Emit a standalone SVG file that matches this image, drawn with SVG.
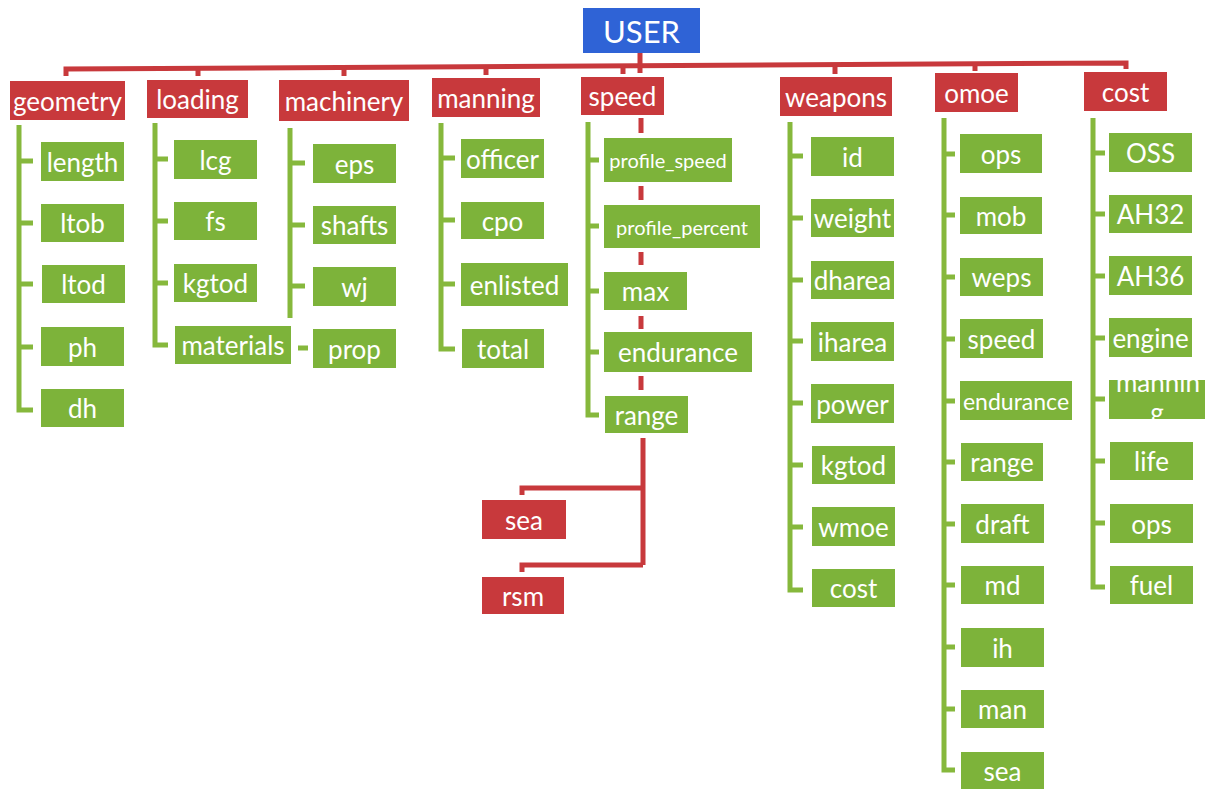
<svg xmlns="http://www.w3.org/2000/svg" width="1205" height="789" viewBox="0 0 1205 789">
<style>
.bg{fill:#ffffff}
.r{fill:#c8393c}
.g{fill:#7db33a}
.b{fill:#2f63d6}
.t{font-family:Lato,"Open Sans",sans-serif;font-size:26px;fill:#ffffff;text-anchor:middle;dominant-baseline:central}
.s{font-size:20px}
.gl{stroke:#86b83c;stroke-width:5;fill:none}
.rl{stroke:#c8393c;stroke-width:5;fill:none}
</style>
<defs>
<clipPath id="cm"><rect x="1109" y="380" width="96" height="39"/></clipPath>
</defs>
<rect class="bg" x="0" y="0" width="1205" height="789"/>
<g id="connectors">
<path class="rl" d="M66,76 V69 L1126,63 V69"/>
<path class="rl" d="M198,68 V76 M344,67 V76 M486,66 V75 M623,65 V74 M640,53 V73 M835,64 V74 M975,64 V71"/>
<path class="rl" d="M641,118 V133 M641,186 V200 M641,252 V265 M641,316 V329 M641,376 V390"/>
<path class="rl" d="M643,438 V565 M643,488 H522 V495 M643,565 H522 V572"/>
<path class="gl" d="M19,125 V410 H33 M19,161 H33 M19,223 H33 M19,284 H33 M19,347 H33"/>
<path class="gl" d="M155,123 V345 H168 M155,159 H168 M155,221 H168 M155,283 H168"/>
<path class="gl" d="M290,128 V318 M290,163 H305 M290,225 H305 M290,286 H305 M298,348 H308"/>
<path class="gl" d="M441,123 V349 H455 M441,158 H455 M441,220 H455 M441,284 H455"/>
<path class="gl" d="M588,122 V415 H599 M588,160 H599 M588,226 H599 M588,291 H599 M588,352 H599"/>
<path class="gl" d="M790,122 V590 H803 M790,156 H803 M790,218 H803 M790,280 H803 M790,341 H803 M790,403 H803 M790,465 H803 M790,527 H803"/>
<path class="gl" d="M944,118 V770 H955 M944,154 H955 M944,215 H955 M944,277 H955 M944,339 H955 M944,401 H955 M944,462 H955 M944,524 H955 M944,585 H955 M944,647 H955 M944,709 H955"/>
<path class="gl" d="M1093,118 V587 H1105 M1093,153 H1105 M1093,214 H1105 M1093,276 H1105 M1093,338 H1105 M1093,399 H1105 M1093,461 H1105 M1093,523 H1105"/>
</g>
<g id="user"><rect class="b" x="583" y="8" width="117" height="45"/><text class="t" x="641.5" y="30.5" style="font-size:31px">USER</text></g>
<g id="geometry"><rect class="r" x="10" y="81" width="115" height="39"/><text class="t" x="67.5" y="100.5">geometry</text></g>
<g id="loading"><rect class="r" x="147" y="80" width="101" height="38"/><text class="t" x="197.5" y="99">loading</text></g>
<g id="machinery"><rect class="r" x="279" y="80" width="130" height="41"/><text class="t" x="344" y="100.5">machinery</text></g>
<g id="manning"><rect class="r" x="432" y="78" width="108" height="39"/><text class="t" x="486" y="97.5">manning</text></g>
<g id="speed"><rect class="r" x="581" y="77" width="83" height="38"/><text class="t" x="622.5" y="96">speed</text></g>
<g id="weapons"><rect class="r" x="780" y="77" width="112" height="39"/><text class="t" x="836" y="96.5">weapons</text></g>
<g id="omoe"><rect class="r" x="935" y="73" width="83" height="39"/><text class="t" x="976.5" y="92.5">omoe</text></g>
<g id="cost"><rect class="r" x="1084" y="72" width="83" height="39"/><text class="t" x="1125.5" y="91.5">cost</text></g>

<g id="geo-length"><rect class="g" x="41" y="142" width="83" height="39"/><text class="t" x="82.5" y="161.5">length</text></g>
<g id="geo-ltob"><rect class="g" x="41" y="204" width="83" height="38"/><text class="t" x="82.5" y="223">ltob</text></g>
<g id="geo-ltod"><rect class="g" x="42" y="265" width="83" height="38"/><text class="t" x="83.5" y="284">ltod</text></g>
<g id="geo-ph"><rect class="g" x="41" y="327" width="83" height="39"/><text class="t" x="82.5" y="346.5">ph</text></g>
<g id="geo-dh"><rect class="g" x="41" y="389" width="83" height="38"/><text class="t" x="82.5" y="408">dh</text></g>

<g id="load-lcg"><rect class="g" x="174" y="140" width="83" height="39"/><text class="t" x="215.5" y="159.5">lcg</text></g>
<g id="load-fs"><rect class="g" x="174" y="202" width="83" height="38"/><text class="t" x="215.5" y="221">fs</text></g>
<g id="load-kgtod"><rect class="g" x="174" y="264" width="83" height="38"/><text class="t" x="215.5" y="283">kgtod</text></g>
<g id="load-materials"><rect class="g" x="175" y="326" width="116" height="38"/><text class="t" x="233" y="345">materials</text></g>

<g id="mach-eps"><rect class="g" x="313" y="144" width="83" height="39"/><text class="t" x="354.5" y="163.5">eps</text></g>
<g id="mach-shafts"><rect class="g" x="313" y="206" width="83" height="38"/><text class="t" x="354.5" y="225">shafts</text></g>
<g id="mach-wj"><rect class="g" x="313" y="267" width="83" height="39"/><text class="t" x="354.5" y="286.5">wj</text></g>
<g id="mach-prop"><rect class="g" x="313" y="329" width="83" height="39"/><text class="t" x="354.5" y="348.5">prop</text></g>

<g id="man-officer"><rect class="g" x="461" y="139" width="83" height="39"/><text class="t" x="502.5" y="158.5">officer</text></g>
<g id="man-cpo"><rect class="g" x="461" y="202" width="83" height="37"/><text class="t" x="502.5" y="220.5">cpo</text></g>
<g id="man-enlisted"><rect class="g" x="461" y="263" width="107" height="43"/><text class="t" x="514.5" y="284.5">enlisted</text></g>
<g id="man-total"><rect class="g" x="462" y="329" width="82" height="39"/><text class="t" x="503" y="348.5">total</text></g>

<g id="sp-profile_speed"><rect class="g" x="604" y="138" width="128" height="44"/><text class="t s" x="668" y="160">profile_speed</text></g>
<g id="sp-profile_percent"><rect class="g" x="604" y="205" width="156" height="43"/><text class="t s" x="682" y="226.5">profile_percent</text></g>
<g id="sp-max"><rect class="g" x="604" y="272" width="83" height="38"/><text class="t" x="645.5" y="291">max</text></g>
<g id="sp-endurance"><rect class="g" x="604" y="332" width="148" height="40"/><text class="t" x="678" y="352">endurance</text></g>
<g id="sp-range"><rect class="g" x="605" y="396" width="83" height="37"/><text class="t" x="646.5" y="414.5">range</text></g>
<g id="sp-sea"><rect class="r" x="482" y="500" width="84" height="39"/><text class="t" x="524" y="519.5">sea</text></g>
<g id="sp-rsm"><rect class="r" x="482" y="577" width="82" height="37"/><text class="t" x="523" y="595.5">rsm</text></g>

<g id="wp-id"><rect class="g" x="811" y="137" width="83" height="39"/><text class="t" x="852.5" y="156.5">id</text></g>
<g id="wp-weight"><rect class="g" x="811" y="199" width="83" height="38"/><text class="t" x="852.5" y="218">weight</text></g>
<g id="wp-dharea"><rect class="g" x="811" y="261" width="83" height="38"/><text class="t" x="852.5" y="280">dharea</text></g>
<g id="wp-iharea"><rect class="g" x="811" y="322" width="83" height="39"/><text class="t" x="852.5" y="341.5">iharea</text></g>
<g id="wp-power"><rect class="g" x="811" y="384" width="83" height="39"/><text class="t" x="852.5" y="403.5">power</text></g>
<g id="wp-kgtod"><rect class="g" x="812" y="446" width="83" height="38"/><text class="t" x="853.5" y="465">kgtod</text></g>
<g id="wp-wmoe"><rect class="g" x="812" y="507" width="83" height="39"/><text class="t" x="853.5" y="526.5">wmoe</text></g>
<g id="wp-cost"><rect class="g" x="812" y="569" width="83" height="38"/><text class="t" x="853.5" y="588">cost</text></g>

<g id="om-ops"><rect class="g" x="960" y="134" width="82" height="39"/><text class="t" x="1001" y="153.5">ops</text></g>
<g id="om-mob"><rect class="g" x="960" y="197" width="82" height="37"/><text class="t" x="1001" y="215.5">mob</text></g>
<g id="om-weps"><rect class="g" x="960" y="258" width="83" height="38"/><text class="t" x="1001.5" y="277">weps</text></g>
<g id="om-speed"><rect class="g" x="960" y="319" width="83" height="39"/><text class="t" x="1001.5" y="338.5">speed</text></g>
<g id="om-endurance"><rect class="g" x="960" y="381" width="112" height="39"/><text class="t" x="1016" y="400.5" style="font-size:23px">endurance</text></g>
<g id="om-range"><rect class="g" x="961" y="443" width="82" height="38"/><text class="t" x="1002" y="462">range</text></g>
<g id="om-draft"><rect class="g" x="961" y="504" width="83" height="39"/><text class="t" x="1002.5" y="523.5">draft</text></g>
<g id="om-md"><rect class="g" x="961" y="566" width="83" height="38"/><text class="t" x="1002.5" y="585">md</text></g>
<g id="om-ih"><rect class="g" x="961" y="628" width="83" height="39"/><text class="t" x="1002.5" y="647.5">ih</text></g>
<g id="om-man"><rect class="g" x="961" y="690" width="83" height="38"/><text class="t" x="1002.5" y="709">man</text></g>
<g id="om-sea"><rect class="g" x="961" y="752" width="83" height="38"/><text class="t" x="1002.5" y="771">sea</text></g>

<g id="co-OSS"><rect class="g" x="1109" y="133" width="83" height="39"/><text class="t" x="1150.5" y="152.5">OSS</text></g>
<g id="co-AH32"><rect class="g" x="1109" y="195" width="83" height="38"/><text class="t" x="1150.5" y="214">AH32</text></g>
<g id="co-AH36"><rect class="g" x="1109" y="256" width="83" height="39"/><text class="t" x="1150.5" y="275.5">AH36</text></g>
<g id="co-engine"><rect class="g" x="1109" y="318" width="83" height="39"/><text class="t" x="1150.5" y="337.5">engine</text></g>
<g id="co-manning"><rect class="g" x="1109" y="380" width="96" height="39"/><g clip-path="url(#cm)"><text class="t" x="1158" y="392" style="dominant-baseline:auto">mannin</text><text class="t" x="1157" y="422" style="dominant-baseline:auto">g</text></g></g>
<g id="co-life"><rect class="g" x="1110" y="442" width="83" height="38"/><text class="t" x="1151.5" y="461">life</text></g>
<g id="co-ops"><rect class="g" x="1110" y="504" width="83" height="39"/><text class="t" x="1151.5" y="523.5">ops</text></g>
<g id="co-fuel"><rect class="g" x="1110" y="566" width="83" height="38"/><text class="t" x="1151.5" y="585">fuel</text></g>
</svg>
